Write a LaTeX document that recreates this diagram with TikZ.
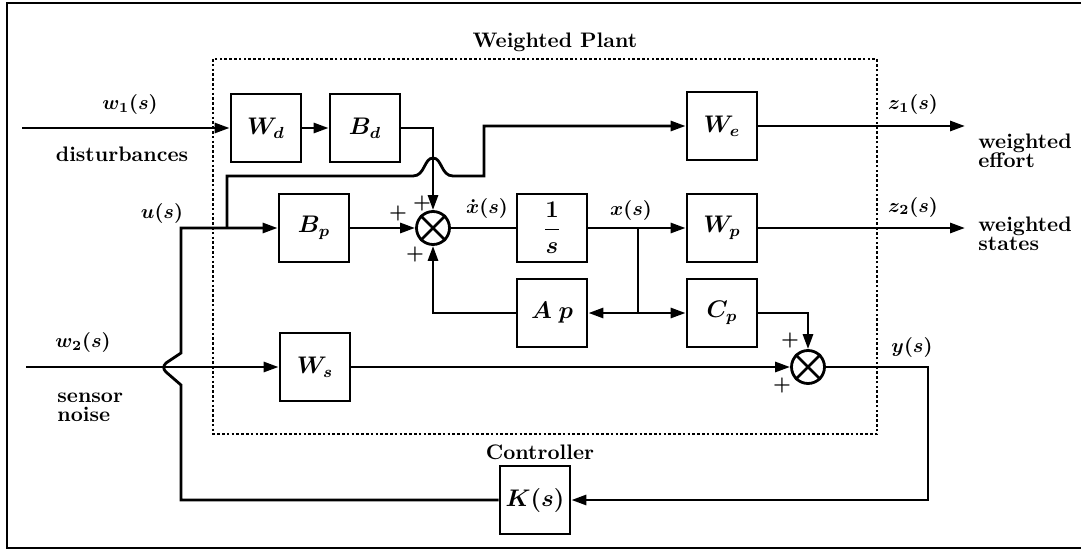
\documentclass[tikz,border=0pt]{standalone}
\usepackage{amsmath}
\usepackage{bm}
\usepackage{tikz}
\usetikzlibrary{arrows.meta}

\tikzset{
  blk/.style={draw, line width=1.4pt, minimum width=35pt, minimum height=34pt, inner sep=0pt, font=\large},
  sumj/.style={circle, draw, line width=1.4pt, minimum size=16.5pt, inner sep=0pt},
  sig/.style={line width=1.4pt},
  arr/.style={line width=1.4pt, -{Triangle[length=7.5pt,width=5pt]}},
  lbl/.style={font={\bfseries\fontsize{10.5}{12}\selectfont}},
  plus/.style={inner sep=0.5pt},
  twoline/.style={font={\bfseries\fontsize{10.5}{9.5}\selectfont}, align=left, anchor=west, inner sep=0pt}
}

\begin{document}
\begin{tikzpicture}[x=0.5pt,y=-0.5pt]
\useasboundingbox (0,0) rectangle (1081,551);

%frame and plant box
\draw[line width=1.4pt] (1081,3)--(7,3)--(7,548)--(1081,548);
\draw[line width=1.4pt, dash pattern=on 1.3pt off 1.1pt] (213,59) rectangle (877,434);
\node[lbl] (plant) at (555,42) {Weighted Plant};
\node[lbl] (ctrl) at (540,452) {Controller};

%blocks
\node[blk] (Wd) at (266,128) {$\bm{W_d}$};
\node[blk] (Bd) at (365,128) {$\bm{B_d}$};
\node[blk] (We) at (722,126) {$\bm{W_e}$};
\node[blk] (Bp) at (314,228) {$\bm{B_p}$};
\node[blk] (Int) at (552,228) {$\bm{\dfrac{1}{s}}$};
\node[blk] (Wp) at (722,228) {$\bm{W_p}$};
\node[blk] (Ap) at (552,313) {$\bm{A\;p}$};
\node[blk] (Cp) at (722,313) {$\bm{C_p}$};
\node[blk] (Ws) at (315,367) {$\bm{W_s}$};
\node[blk] (K) at (535,500) {$\bm{K(s)}$};

%summing junctions
\node[sumj] (s1) at (433,228) {};
\node[sumj] (s2) at (808,367) {};
\draw[sig] (s1.north east)--(s1.south west) (s1.north west)--(s1.south east);
\draw[sig] (s2.north east)--(s2.south west) (s2.north west)--(s2.south east);

%free ends and branch points
\coordinate (w1in) at (22,128); \coordinate (w2in) at (26,367);
\coordinate (z1) at (965,126); \coordinate (z2) at (965,228);
\coordinate (ub) at (227,228); \coordinate (xb) at (638,228); \coordinate (xa) at (638,313);

%signals
\draw[arr] (w1in)--(Wd.west); \draw[arr] (Wd.east)--(Bd.west);
\draw[arr] (Bd.east) -| (s1.north);
\draw[arr] (ub) |- (413,176) .. controls (425,176) and (424,158) .. (433,158) .. controls (442,158) and (441,176) .. (453,176) -- (484,176) |- (We.west);
\draw[arr] (K.west) -| (181,385) -- (166,372) .. controls (163,369) and (163,366) .. (166,363) -- (181,353) -- (181,228) -- (Bp.west);
\draw[arr] (Bp.east)--(s1.west);
\draw[sig] (s1.east)--(Int.west);
\draw[arr] (Int.east)--(Wp.west);
\draw[sig] (xb)--(xa);
\draw[arr] (xa)--(Ap.east); \draw[arr] (xa)--(Cp.west);
\draw[arr] (Ap.west) -| (s1.south);
\draw[arr] (Cp.east) -| (s2.north);
\draw[arr] (w2in)--(Ws.west);
\draw[arr] (Ws.east)--(s2.west);
\draw[arr] (s2.east) -- (928,367) |- (K.east);
\draw[arr] (We.east)--(z1); \draw[arr] (Wp.east)--(z2);

%labels
\node (w1lab) at (130,105) {$\bm{w_1(s)}$};
\node[lbl] (dist) at (122,154) {disturbances};
\node (w2lab) at (83,342) {$\bm{w_2(s)}$};
\node[twoline] (noise) at (57,407) {sensor\\noise};
\node (ulab) at (162,213) {$\bm{u(s)}$};
\node[inner sep=0pt] (xdlab) at (487,208) {$\bm{\dot x(s)}$};
\node (xlab) at (631,210) {$\bm{x(s)}$};
\node (ylab) at (912,347) {$\bm{y(s)}$};
\node (z1lab) at (913,105) {$\bm{z_1(s)}$};
\node (z2lab) at (913,207) {$\bm{z_2(s)}$};
\node[twoline] (eff) at (978,151) {weighted\\effort};
\node[twoline] (sta) at (978,234) {weighted\\states};
\node[plus] (p1) at (398,213) {$\bm{+}$};
\node[plus] (p2) at (422,203) {$\bm{+}$};
\node[plus] (p3) at (415,254) {$\bm{+}$};
\node[plus] (p4) at (790,340) {$\bm{+}$};
\node[plus] (p5) at (782,385) {$\bm{+}$};

\end{tikzpicture}
\end{document}
